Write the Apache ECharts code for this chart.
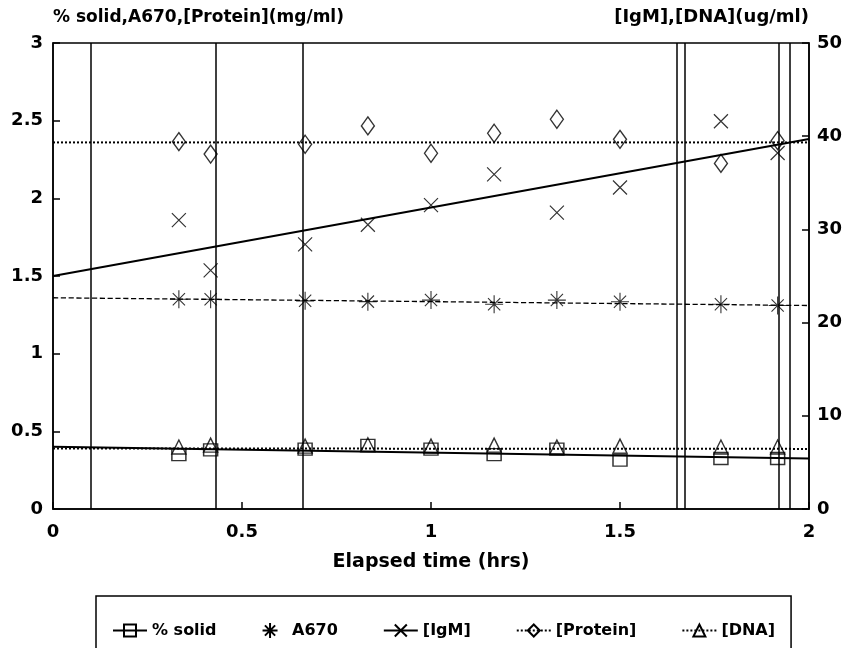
<!DOCTYPE html>
<html>
<head>
<meta charset="utf-8">
<script src="https://cdn.jsdelivr.net/npm/echarts@6/dist/echarts.min.js"></script>
<style>
  html, body { margin: 0; padding: 0; background: #fff; }
  #chart { width: 849px; height: 648px; }
</style>
</head>
<body>
<div id="chart"></div>
<script>
// sample times (hrs)
const times = [0.333, 0.417, 0.667, 0.833, 1.0, 1.167, 1.333, 1.5, 1.767, 1.917];

// left axis (mg/ml etc.)
const solidPct = [0.35, 0.38, 0.385, 0.41, 0.385, 0.35, 0.385, 0.315, 0.325, 0.325];
const a670 = [1.35, 1.35, 1.34, 1.335, 1.345, 1.318, 1.345, 1.334, 1.318, 1.31];
const protein = [2.365, 2.285, 2.348, 2.466, 2.29, 2.419, 2.509, 2.38, 2.225, 2.371];

// right axis (ug/ml)
const igm = [31.0, 25.6, 28.4, 30.5, 32.6, 35.9, 31.8, 34.5, 41.6, 38.2];
const dna = [6.65, 6.85, 6.75, 6.9, 6.75, 6.85, 6.65, 6.75, 6.65, 6.65];

// fitted lines: value at t=0 and t=2
const fitX = [0, 2];
const solidFit = [0.40, 0.325];
const a670Fit = [1.36, 1.31];
const igmFit = [25.0, 39.7];
const proteinFit = [2.36, 2.36];
const dnaFit = [6.5, 6.45];

// vertical rules in the plot (hrs)
const verticals = [0.105, 0.426, 0.655, 1.648, 1.667, 1.923, 1.95];

const xTicks = ['0', '0.5', '1', '1.5', '2'];

const FONT = 'DejaVu Sans';
const pair = (xs, ys) => xs.map((x, i) => [x, ys[i]]);

const asterisk = 'path://M0,5L10,5M5,0L5,10M1.6,1.6L8.4,8.4M8.4,1.6L1.6,8.4';
const cross = 'path://M0,0L10,10M10,0L0,10';

const hollow = { color: 'transparent', borderColor: '#000', borderWidth: 1.4 };

function pts(name, data, symbol, size, yAxisIndex, bw) {
  return {
    name: name, type: 'scatter', data: data, yAxisIndex: yAxisIndex,
    symbol: symbol, symbolSize: size,
    itemStyle: Object.assign({}, hollow, bw ? { borderWidth: bw } : {}), z: 3
  };
}

function fit(name, data, type, width, symbol, size, yAxisIndex) {
  return {
    name: name, type: 'line', data: data, yAxisIndex: yAxisIndex,
    showSymbol: false, symbol: symbol, symbolSize: size,
    itemStyle: hollow,
    lineStyle: { color: '#000', width: width, type: type }
  };
}

const chart = echarts.init(document.getElementById('chart'));

const series = [
  pts('solid pts', pair(times, solidPct), 'rect', [14, 12], 0),
  pts('a670 pts', pair(times, a670), asterisk, 18, 0, 1.1),
  pts('igm pts', pair(times, igm), cross, 14, 1, 1.2),
  pts('protein pts', pair(times, protein), 'diamond', [13, 18], 0),
  pts('dna pts', pair(times, dna), 'triangle', [14, 14], 1),
  fit('% solid', pair(fitX, solidFit), 'solid', 2, 'rect', [12, 10], 0),
  fit('A670', pair(fitX, a670Fit), 'dashed', 1.3, asterisk, 14, 0),
  fit('[IgM]', pair(fitX, igmFit), 'solid', 2.2, cross, 12, 1),
  fit('[Protein]', pair(fitX, proteinFit), 'dotted', 2, 'diamond', [11, 14], 0),
  fit('[DNA]', pair(fitX, dnaFit), 'dotted', 2, 'triangle', 12, 1),
  {
    name: 'rules', type: 'line', data: [],
    markLine: {
      silent: true, symbol: 'none', label: { show: false },
      lineStyle: { color: '#000', width: 1.5, type: 'solid' },
      data: verticals.map(v => ({ xAxis: v }))
    }
  }
];

const boldText = (size, extra) => Object.assign(
  { fontFamily: FONT, fontWeight: 'bold', fontSize: size, color: '#000' }, extra || {});

chart.setOption({
  animation: false,
  backgroundColor: '#fff',
  textStyle: { fontFamily: FONT, color: '#000' },
  grid: {
    left: 53, right: 40, top: 43, bottom: 139,
    show: true, borderColor: '#000', borderWidth: 1.5
  },
  legend: {
    data: ['% solid', { name: 'A670', icon: asterisk }, '[IgM]', '[Protein]', '[DNA]'],
    left: 96, top: 596,
    padding: [26, 16, 30, 16],
    itemGap: 45,
    itemWidth: 34, itemHeight: 15,
    borderColor: '#000', borderWidth: 1.5,
    textStyle: boldText(16)
  },
  xAxis: {
    type: 'value', min: 0, max: 2, interval: 0.5,
    name: 'Elapsed time (hrs)', nameLocation: 'middle', nameGap: 44,
    nameTextStyle: boldText(19),
    axisLine: { lineStyle: { color: '#000', width: 1.5 } },
    axisTick: { inside: true, length: 7, lineStyle: { color: '#000', width: 1.5 } },
    axisLabel: Object.assign({ margin: 14, formatter: v => xTicks[Math.round(v / 0.5)] }, boldText(18)),
    splitLine: { show: false }
  },
  yAxis: [
    {
      type: 'value', min: 0, max: 3, interval: 0.5, position: 'left',
      name: '% solid,A670,[Protein](mg/ml)', nameLocation: 'end', nameGap: 17,
      nameTextStyle: boldText(17, { align: 'left' }),
      axisLine: { show: true, lineStyle: { color: '#000', width: 1.5 } },
      axisTick: { show: true, inside: true, length: 7, lineStyle: { color: '#000', width: 1.5 } },
      axisLabel: Object.assign({ margin: 10 }, boldText(18)),
      splitLine: { show: false }
    },
    {
      type: 'value', min: 0, max: 50, interval: 10, position: 'right',
      name: '[IgM],[DNA](ug/ml)', nameLocation: 'end', nameGap: 17,
      nameTextStyle: boldText(18, { align: 'right' }),
      axisLine: { show: true, lineStyle: { color: '#000', width: 1.5 } },
      axisTick: { show: true, inside: true, length: 7, lineStyle: { color: '#000', width: 1.5 } },
      axisLabel: Object.assign({ margin: 8 }, boldText(18)),
      splitLine: { show: false }
    }
  ],
  series: series
});
</script>
</body>
</html>
